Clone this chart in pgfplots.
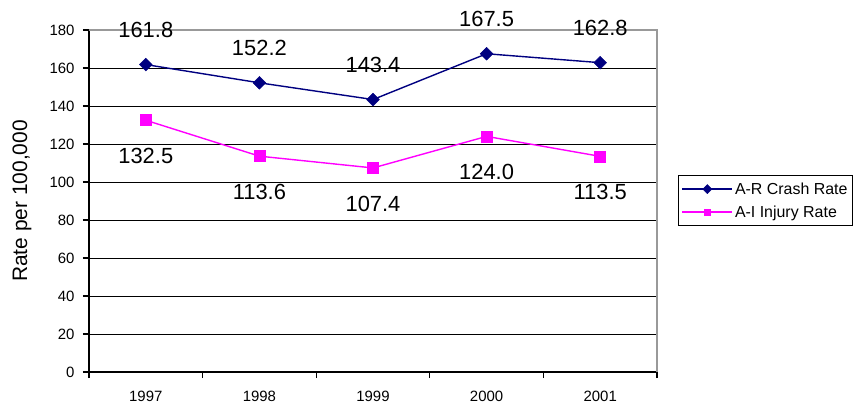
\documentclass[border=0pt]{standalone}
\usepackage{pgfplots}
\pgfplotsset{compat=1.18}
\usepackage{fontspec}
\setmainfont{Liberation Sans}
\definecolor{crash}{RGB}{0,0,128}
\definecolor{injury}{RGB}{255,0,255}

\pgfplotstableread{
x rate
0 161.8
1 152.2
2 143.4
3 167.5
4 162.8
}\crashdata
\pgfplotstableread{
x rate
0 132.5
1 113.6
2 107.4
3 124.0
4 113.5
}\injurydata

\begin{document}
\begin{tikzpicture}
\useasboundingbox (0,0) rectangle (867bp,406bp);
\begin{axis}[
  at={(89bp,34bp)}, anchor=south west,
  scale only axis, width=568bp, height=342bp,
  clip=false,
  xmin=-0.5, xmax=4.5, ymin=0, ymax=180,
  xtick={-0.5,0.5,1.5,2.5,3.5,4.5},
  xticklabels={1997,1998,1999,2000,2001,{}},
  xticklabel style={xshift=56.8bp, yshift=-10bp},
  yticklabel style={xshift=-5bp},
  ytick={0,20,...,180},
  axis lines=left,
  axis line style={-, line width=1.6bp, black},
  tick align=outside, tick pos=left,
  major tick length=6bp,
  tick style={line width=1.2bp, black},
  ymajorgrids, grid style={black, line width=0.9bp},
  /pgf/number format/assume math mode=true,
  tick label style={font=\fontsize{15}{17}\selectfont},
  ylabel={Rate per 100,000},
  ylabel style={font=\fontsize{21}{24}\selectfont, at={(axis description cs:-0.118,0.5)}, anchor=center},
  legend style={at={(rel axis cs:1.037,0.576)}, anchor=north west,
    draw=black, line width=1.2bp, font=\fontsize{16}{18}\selectfont,
    inner xsep=3bp, inner ysep=5bp, row sep=6bp},
  legend cell align=left,
  legend image code/.code={\draw[mark repeat=2,mark phase=2,#1,mark size=3.2bp] plot coordinates {(0bp,0bp) (25bp,0bp) (50bp,0bp)};},
]
\addplot[crash, line width=1.4bp, mark=square*, mark size=4.5bp,
  mark options={solid, rotate=45, fill=crash, line width=0.5bp},
  nodes near coords,
  every node near coord/.append style={anchor=center, yshift=35bp, text=black, rotate=0,
    font=\fontsize{22}{24}\selectfont,
    /pgf/number format/fixed, /pgf/number format/fixed zerofill,
    /pgf/number format/precision=1, /pgf/number format/assume math mode=true}]
  table[x=x, y=rate] {\crashdata};
\addlegendentry{A-R Crash Rate}
\addplot[injury, line width=1.4bp, mark=square*, mark size=5.5bp,
  mark options={solid, fill=injury, draw=injury, line width=0.6bp},
  nodes near coords,
  every node near coord/.append style={anchor=center, yshift=-36bp, text=black,
    font=\fontsize{22}{24}\selectfont,
    /pgf/number format/fixed, /pgf/number format/fixed zerofill,
    /pgf/number format/precision=1, /pgf/number format/assume math mode=true}]
  table[x=x, y=rate] {\injurydata};
\addlegendentry{A-I Injury Rate}
% plot-area frame on the top and right
\draw[gray!80, line width=1.2bp] (rel axis cs:0,1) -- (rel axis cs:1,1) -- (rel axis cs:1,0);
\end{axis}
\end{tikzpicture}
\end{document}
